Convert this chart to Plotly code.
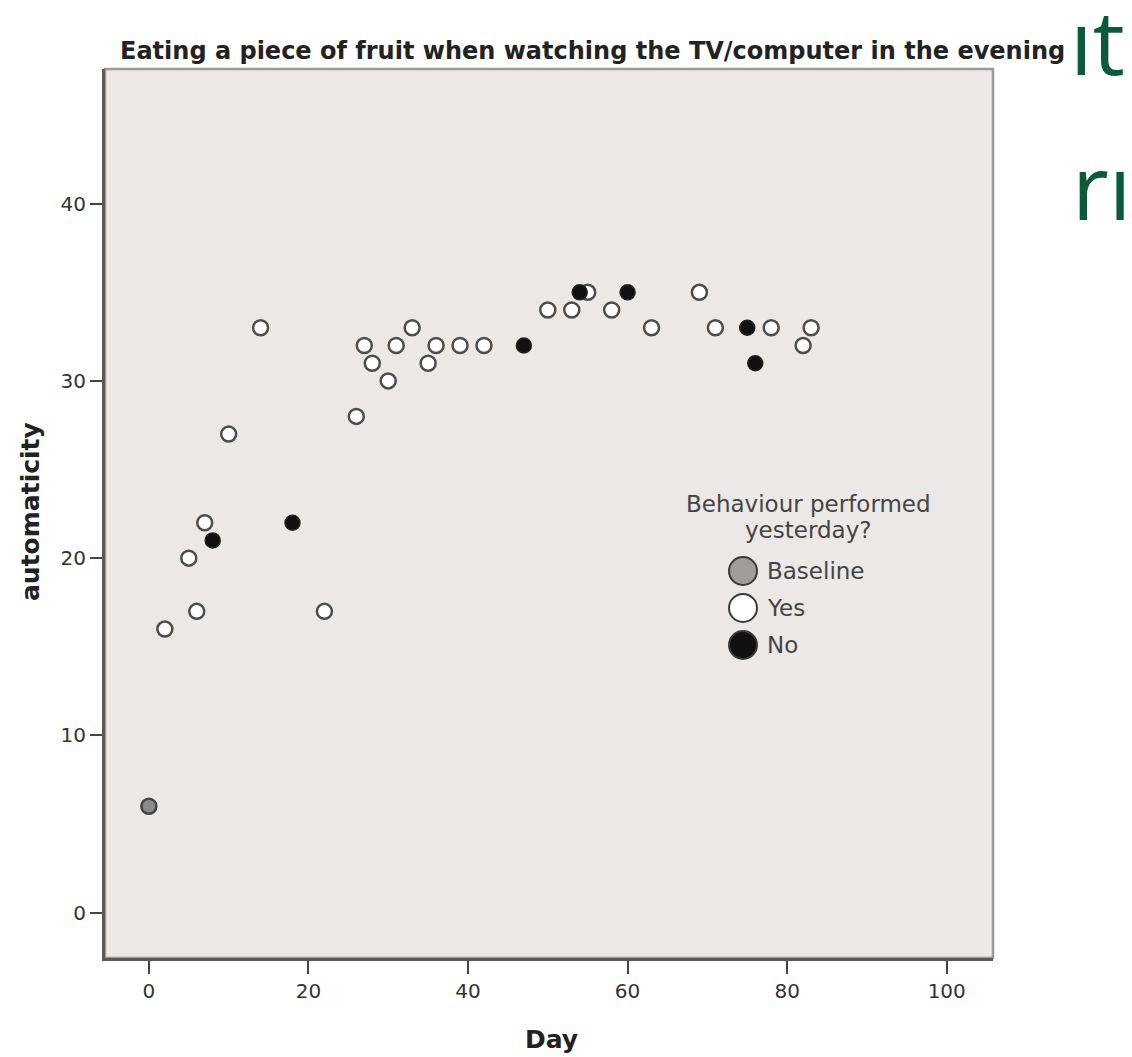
import plotly.graph_objects as go

# ---- data ----
baseline_day = [0]
baseline_auto = [6]

yes_day = [2, 5, 6, 7, 10, 14, 22, 26, 27, 28, 30, 31, 33, 35, 36, 39, 42,
           50, 53, 55, 58, 63, 69, 71, 78, 82, 83]
yes_auto = [16, 20, 17, 22, 27, 33, 17, 28, 32, 31, 30, 32, 33, 31, 32, 32, 32,
            34, 34, 35, 34, 33, 35, 33, 33, 32, 33]

no_day = [8, 18, 47, 54, 60, 75, 76]
no_auto = [21, 22, 32, 35, 35, 33, 31]

x_ticks = [0, 20, 40, 60, 80, 100]
y_ticks = [0, 10, 20, 30, 40]

legend_title = ["Behaviour performed", "yesterday?"]
legend_labels = ["Baseline", "Yes", "No"]
legend_fills = ["#a09c9a", "#ffffff", "#111111"]

W, H = 1132, 1057
L, R, T, B = 105, 139, 69, 99
PW, PH = W - L - R, H - T - B
FONT = "DejaVu Sans, Liberation Sans, Arial, sans-serif"


def px(xp):
    return (xp - L) / PW


def py(yp):
    return (H - B - yp) / PH


fig = go.Figure()

fig.add_trace(go.Scatter(
    x=yes_day, y=yes_auto, mode="markers", name="Yes", showlegend=False,
    marker=dict(size=15, color="#ffffff", line=dict(color="#4d4d4d", width=2.5)),
))
fig.add_trace(go.Scatter(
    x=no_day, y=no_auto, mode="markers", name="No", showlegend=False,
    marker=dict(size=15, color="#111111", line=dict(color="#222222", width=1.5)),
))
fig.add_trace(go.Scatter(
    x=baseline_day, y=baseline_auto, mode="markers", name="Baseline", showlegend=False,
    marker=dict(size=15, color="#8c8a88", line=dict(color="#444444", width=2.5)),
))

fig.update_layout(
    width=W, height=H, autosize=False,
    margin=dict(l=L, r=R, t=T, b=B, pad=0),
    paper_bgcolor="#ffffff",
    plot_bgcolor="#ece8e5",
    font=dict(family=FONT, color="#333333"),
    showlegend=False,
)

fig.update_xaxes(
    range=[-5.5, 105.8], tickvals=x_ticks, ticktext=[str(v) for v in x_ticks],
    ticks="outside", ticklen=13, tickwidth=2, tickcolor="#444444",
    showline=True, linecolor="#5a5a5a", linewidth=3,
    showgrid=False, zeroline=False,
    tickfont=dict(size=20, color="#333333", family=FONT),
)
fig.update_yaxes(
    range=[-2.56, 47.6], tickvals=y_ticks, ticktext=[str(v) for v in y_ticks],
    ticks="outside", ticklen=12, tickwidth=2, tickcolor="#444444",
    showline=True, linecolor="#5a5a5a", linewidth=3,
    showgrid=False, zeroline=False,
    tickfont=dict(size=20, color="#333333", family=FONT),
)

# light top/right frame
fig.add_shape(type="rect", xref="paper", yref="paper", x0=0, x1=1, y0=0, y1=1,
              line=dict(color="#9c9a98", width=2.5), layer="below")

anns = []
# title
anns.append(dict(text="<b>Eating a piece of fruit when watching the TV/computer in the evening</b>",
                 x=px(592), y=py(51), xref="paper", yref="paper", showarrow=False,
                 xanchor="center", yanchor="middle",
                 font=dict(size=24, color="#222222", family=FONT)))
# axis titles
anns.append(dict(text="<b>automaticity</b>", x=px(30), y=py(512), xref="paper", yref="paper",
                 showarrow=False, textangle=-90, xanchor="center", yanchor="middle",
                 font=dict(size=25, color="#222222", family=FONT)))
anns.append(dict(text="<b>Day</b>", x=px(551), y=py(1039), xref="paper", yref="paper",
                 showarrow=False, xanchor="center", yanchor="middle",
                 font=dict(size=25, color="#222222", family=FONT)))

# legend (drawn manually to match large symbols)
for i, t in enumerate(legend_title):
    anns.append(dict(text=t, x=px(808), y=py(504 + 26 * i), xref="paper", yref="paper",
                     showarrow=False, xanchor="center", yanchor="middle",
                     font=dict(size=23, color="#444444", family=FONT)))
for i, (lab, fc) in enumerate(zip(legend_labels, legend_fills)):
    yc = 571 + 37 * i
    anns.append(dict(text=lab, x=px(765), y=py(yc), xref="paper", yref="paper",
                     showarrow=False, xanchor="left", yanchor="middle",
                     font=dict(size=23, color="#444444", family=FONT)))
    fig.add_shape(type="circle", xref="paper", yref="paper",
                  xsizemode="pixel", ysizemode="pixel",
                  xanchor=px(743), yanchor=py(yc),
                  x0=-14, x1=14, y0=-14, y1=14,
                  fillcolor=fc, line=dict(color="#3a3a3a", width=2))

# partially visible slide text at right edge
anns.append(dict(text="ıt", x=px(1068), y=py(40), xref="paper", yref="paper",
                 showarrow=False, xanchor="left", yanchor="middle",
                 font=dict(size=90, color="#0b5a3a", family="Open Sans, sans-serif")))
anns.append(dict(text="rı", x=px(1070), y=py(185), xref="paper", yref="paper",
                 showarrow=False, xanchor="left", yanchor="middle",
                 font=dict(size=90, color="#0b5a3a", family="Open Sans, sans-serif")))

fig.update_layout(annotations=anns)

fig.write_html("out.html")
